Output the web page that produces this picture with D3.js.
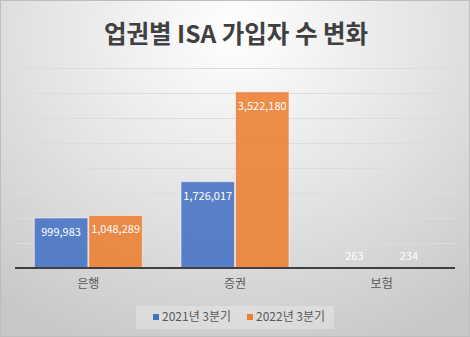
<!DOCTYPE html>
<html>
<head>
<meta charset="utf-8">
<script src="https://cdn.jsdelivr.net/npm/d3@7"></script>
<style>
  html, body { margin: 0; padding: 0; background: #fff; }
  svg { display: block; font-family: "Noto Sans CJK KR", "Noto Sans", sans-serif; }
</style>
</head>
<body>
<svg id="chart" width="470" height="337"></svg>
<script>
// Data
const categories = ["은행", "증권", "보험"];
const seriesNames = ["2021년 3분기", "2022년 3분기"];
const values2021 = [999983, 1726017, 263];
const values2022 = [1048289, 3522180, 234];
const yTicks = [0, 500000, 1000000, 1500000, 2000000, 2500000, 3000000, 3500000, 4000000];
const colors = ["#4472C4", "#ED7D31"];

const W = 470, H = 337;
const margin = { top: 68, right: 15, bottom: 69, left: 15 };
const svg = d3.select("#chart");
const defs = svg.append("defs");

// Background: soft radial highlight at top centre
const bg = defs.append("radialGradient").attr("id", "bg")
  .attr("gradientUnits", "userSpaceOnUse")
  .attr("cx", 235).attr("cy", 30).attr("r", 380)
  .attr("gradientTransform", "translate(235,30) scale(1,0.9) translate(-235,-30)");
bg.append("stop").attr("offset", "0").attr("stop-color", "#ffffff");
bg.append("stop").attr("offset", "0.55").attr("stop-color", "#e2e2e2");
bg.append("stop").attr("offset", "1").attr("stop-color", "#c8c8c8");

svg.append("rect").attr("x", 0.5).attr("y", 0.5)
  .attr("width", W - 1).attr("height", H - 1)
  .attr("fill", "url(#bg)").attr("stroke", "#bdbdbd").attr("stroke-width", 1);

// Gridline colour darkens toward the baseline
const gg = defs.append("linearGradient").attr("id", "grid")
  .attr("gradientUnits", "userSpaceOnUse")
  .attr("x1", 0).attr("x2", 0).attr("y1", margin.top).attr("y2", H - margin.bottom);
gg.append("stop").attr("offset", "0").attr("stop-color", "#dcdcdc");
gg.append("stop").attr("offset", "1").attr("stop-color", "#8f8f8f");

const x0 = d3.scaleBand().domain(categories)
  .range([margin.left, W - margin.right]).paddingInner(0.257).paddingOuter(0.1285);
const x1 = d3.scaleBand().domain(seriesNames).range([0, x0.bandwidth()]).padding(0);
const y = d3.scaleLinear().domain([0, 4000000]).range([H - margin.bottom, margin.top]);

// Title
svg.append("text").attr("x", W / 2 + 1).attr("y", 43)
  .attr("text-anchor", "middle").attr("font-size", 24.5).attr("font-weight", "bold")
  .attr("fill", "#404040").text("업권별 ISA 가입자 수 변화");

// Horizontal gridlines
const gridAxis = d3.axisLeft(y).tickValues(yTicks)
  .tickSize(-(W - margin.left - margin.right)).tickFormat("");
const grid = svg.append("g").attr("transform", `translate(${margin.left},0)`).call(gridAxis);
grid.select(".domain").remove();
grid.selectAll(".tick line").attr("stroke", "url(#grid)").attr("stroke-width", 1);
grid.selectAll(".tick").filter(d => d === 0).remove();

// Bars
const rows = categories.map((c, i) => ({ cat: c, vals: [values2021[i], values2022[i]] }));
const groups = svg.append("g").selectAll("g").data(rows).join("g")
  .attr("transform", d => `translate(${x0(d.cat)},0)`);

groups.selectAll("rect").data(d => d.vals.map((v, j) => ({ v, j })))
  .join("rect")
  .attr("x", d => x1(seriesNames[d.j]) + 0.5)
  .attr("width", x1.bandwidth() - 1)
  .attr("y", d => y(d.v))
  .attr("height", d => y(0) - y(d.v))
  .attr("fill", d => colors[d.j]).attr("fill-opacity", 0.88)
  .attr("stroke", "#ffffff").attr("stroke-opacity", 0.5).attr("stroke-width", 1);

// Value labels inside the bar ends
const fmt = d3.format(",");
groups.selectAll("text").data(d => d.vals.map((v, j) => ({ v, j })))
  .join("text")
  .attr("x", d => x1(seriesNames[d.j]) + x1.bandwidth() / 2)
  .attr("y", d => Math.min(y(d.v) + 14, y(0) - 12))
  .attr("dy", "0.35em")
  .attr("text-anchor", "middle").attr("font-size", 11)
  .attr("fill", "#ffffff").text(d => fmt(d.v));

// Category axis
const xAxis = svg.append("g").attr("transform", `translate(0,${y(0)})`)
  .call(d3.axisBottom(x0).tickSize(0).tickPadding(11));
xAxis.select(".domain").remove();
xAxis.selectAll("text").attr("font-size", 12).attr("fill", "#595959")
  .attr("font-family", "'Noto Sans CJK KR', sans-serif");
svg.append("line").attr("x1", margin.left).attr("x2", W - margin.right)
  .attr("y1", y(0)).attr("y2", y(0))
  .attr("stroke", "#404040").attr("stroke-width", 2);

// Legend
const legend = svg.append("g");
legend.append("rect").attr("x", 136).attr("y", 306).attr("width", 198).attr("height", 23)
  .attr("fill", "#ffffff").attr("fill-opacity", 0.25);
const legendX = [153, 247];
seriesNames.forEach((s, i) => {
  legend.append("rect").attr("x", legendX[i]).attr("y", 314)
    .attr("width", 6).attr("height", 6).attr("fill", colors[i]);
  legend.append("text").attr("x", legendX[i] + 9).attr("y", 317).attr("dy", "0.35em")
    .attr("font-size", 12).attr("fill", "#595959").text(s);
});
</script>
</body>
</html>
